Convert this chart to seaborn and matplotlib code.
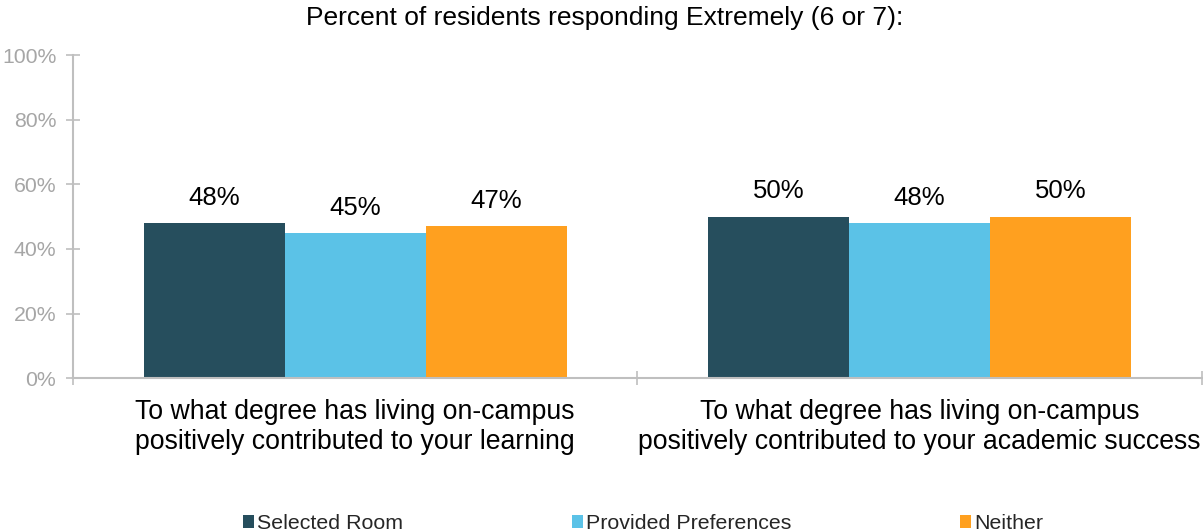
import matplotlib
matplotlib.use("Agg")
import matplotlib.pyplot as plt
from matplotlib.patches import Patch
from matplotlib.ticker import FixedLocator, PercentFormatter
import seaborn as sns
import pandas as pd

questions = [
    "To what degree has living on-campus\npositively contributed to your learning",
    "To what degree has living on-campus\npositively contributed to your academic success",
]
groups = ["Selected Room", "Provided Preferences", "Neither"]
selected_room = [48, 50]
provided_preferences = [45, 48]
neither = [47, 50]
colors = ["#264E5D", "#5BC2E7", "#FFA01F"]
title = "Percent of residents responding Extremely (6 or 7):"

rows = []
for g, vals in zip(groups, [selected_room, provided_preferences, neither]):
    for q, v in zip(questions, vals):
        rows.append({"question": q, "group": g, "value": v})
df = pd.DataFrame(rows)

sns.set_theme(style="white")
plt.rcParams["font.family"] = ["Liberation Sans", "DejaVu Sans"]

fig = plt.figure(figsize=(12.03, 5.31), dpi=100)
ax = fig.add_axes([0.0607, 0.288, 0.9383, 0.608])

sns.barplot(data=df, x="question", y="value", hue="group", order=questions,
            hue_order=groups, palette=colors, width=0.75, gap=0,
            saturation=1, errorbar=None, ax=ax, legend=False, linewidth=0)

for container in ax.containers:
    for bar in container:
        h = bar.get_height()
        ax.annotate(f"{h:.0f}%", (bar.get_x() + bar.get_width() / 2, h),
                    xytext=(0, 9.5), textcoords="offset points",
                    ha="center", va="bottom", fontsize=18.5, color="#000000")

grey = "#BFBFBF"
ax.set_ylim(0, 100)
ax.set_xlim(-0.5, 1.5)
ax.set_yticks(range(0, 101, 20))
ax.yaxis.set_major_formatter(PercentFormatter(decimals=0))
ax.tick_params(axis="y", direction="inout", length=10, width=1.2, color=grey,
               labelcolor="#A6A6A6", labelsize=15.3, pad=7, left=True)
ax.xaxis.set_minor_locator(FixedLocator([-0.5, 0.5, 1.5]))
ax.tick_params(axis="x", which="major", length=0, labelsize=19.2,
               labelcolor="#000000", pad=15)
ax.tick_params(axis="x", which="minor", direction="inout", length=10,
               width=1.2, color=grey, bottom=True)
ax.set_xlabel("")
ax.set_ylabel("")
for side in ["top", "right"]:
    ax.spines[side].set_visible(False)
for side in ["left", "bottom"]:
    ax.spines[side].set_color(grey)
    ax.spines[side].set_linewidth(1.5)

fig.text(0.503, 0.966, title, ha="center", va="center", fontsize=19,
         color="#000000")

handles = [Patch(facecolor=c, edgecolor="none") for c in colors]
fig.legend(handles, groups, loc="center", bbox_to_anchor=(0.5345, 0.014),
           ncol=3, frameon=False, fontsize=15.4, handlelength=0.5,
           handleheight=0.6, handletextpad=0.15, columnspacing=7.9)

fig.savefig("out.png", dpi=100)
